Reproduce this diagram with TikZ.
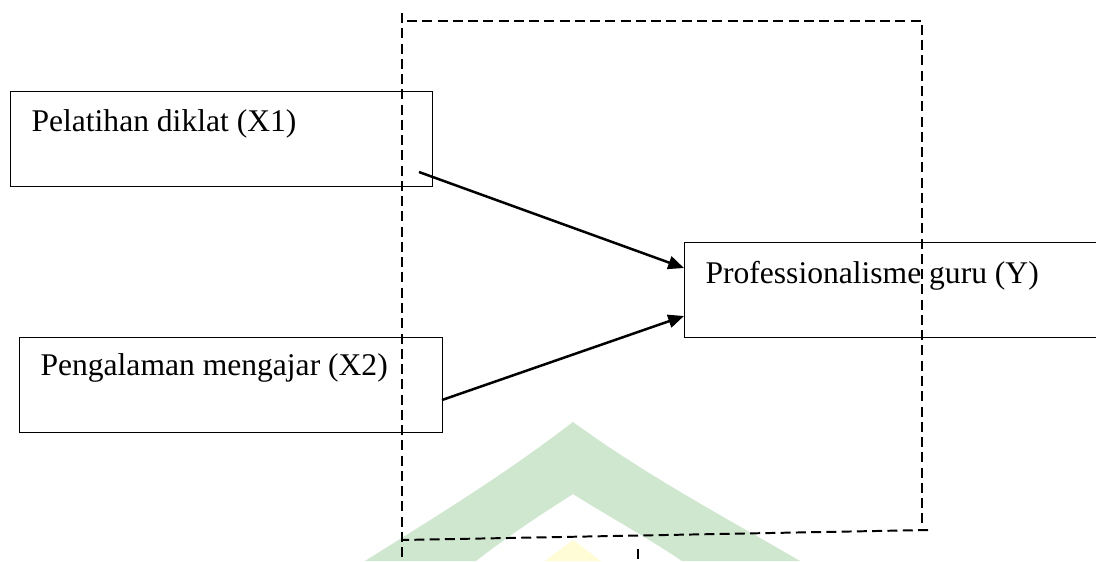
\documentclass[tikz,border=0pt]{standalone}
\usepackage{fontspec}
\setmainfont{Liberation Serif}
\usetikzlibrary{arrows.meta}
\definecolor{wmgreen}{RGB}{207,230,207}
\definecolor{wmyellow}{RGB}{255,252,214}
\tikzset{
	box/.style={draw, line width=0.5pt, rectangle, inner sep=0pt, anchor=north west},
	boxtext/.style={anchor=base west, inner sep=0pt, font=\fontsize{12pt}{14pt}\selectfont},
	frame/.style={line width=0.75pt, dash pattern=on 3.8pt off 2pt},
	link/.style={line width=0.95pt, -{Triangle[length=6pt, width=5pt]}}
}
\begin{document}
\begin{tikzpicture}[x=0.38pt, y=-0.38pt]
	\clip (0,0) rectangle (1096,561);
	\fill[white] (0,0) rectangle (1096,561);
	% watermark (pale chevrons at the bottom)
	\fill[wmgreen] (573,422) .. controls (500,478) and (430,520) .. (365,561)
		-- (476,561) .. controls (508,536) and (540,515) .. (573,494)
		.. controls (606,515) and (645,536) .. (682,561)
		-- (800,561) .. controls (730,520) and (650,478) .. (573,422) -- cycle;
	\fill[wmyellow] (573,540) -- (545,561) -- (601,561) -- cycle;
	% variable boxes
	\node[box, minimum width=160.4pt, minimum height=36.1pt] (x1) at (10,91) {};
	\node[boxtext] (x1text) at (31,131) {Pelatihan diklat (X1)};
	\node[box, minimum width=160.7pt, minimum height=36.1pt] (x2) at (19,337) {};
	\node[boxtext] (x2text) at (40,375) {Pengalaman mengajar (X2)};
	\node[box, minimum width=160pt, minimum height=36.1pt] (y) at (684,242) {};
	\node[boxtext] (ytext) at (705,283) {Professionalisme guru (Y)};
	% dashed frame
	\coordinate (fl) at (402,13);
	\coordinate (flb) at (402,561);
	\coordinate (ftl) at (407,21);
	\coordinate (ftr) at (922,21);
	\coordinate (fbr) at (922,530);
	\coordinate (fbe) at (928,530);
	\coordinate (fbl) at (402,540);
	\coordinate (fmid) at (638,549);
	\coordinate (fmidb) at (638,561);
	\draw[frame] (fl) -- (flb);
	\draw[frame] (ftl) -- (ftr) -- (fbr);
	\draw[frame] (fbe) -- (fbl);
	\draw[frame] (fmid) -- (fmidb);
	% paths to Y
	\coordinate (a1) at (419,172);
	\coordinate (a2) at (442,400);
	\draw[link] (a1) -- (y.west |- 0,268);
	\draw[link] (a2) -- (y.west |- 0,316);
\end{tikzpicture}
\end{document}
